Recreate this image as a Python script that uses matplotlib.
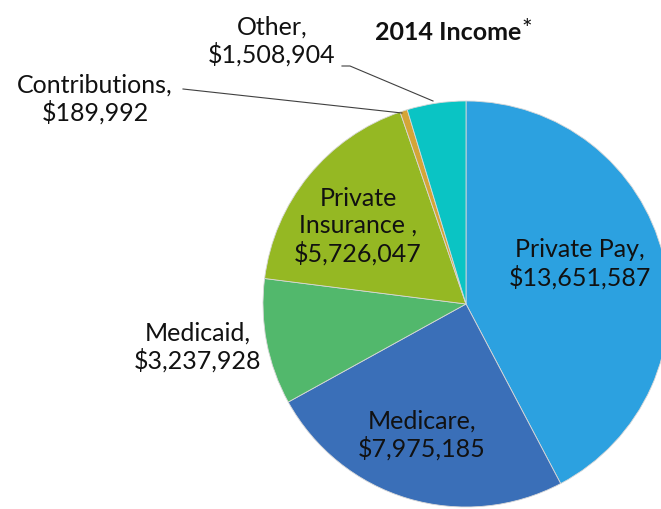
import matplotlib
matplotlib.use("Agg")
import matplotlib.pyplot as plt

categories = ["Private Pay", "Medicare", "Medicaid", "Private\nInsurance ", "Contributions", "Other"]
values = [13651587, 7975185, 3237928, 5726047, 189992, 1508904]
colors = ["#2CA1E0", "#3A6FB8", "#52B86C", "#95B823", "#D4A537", "#0AC4C4"]

plt.rcParams['font.family'] = ['Lato', 'DejaVu Sans']

W, H = 661, 510
fig = plt.figure(figsize=(W/100, H/100), dpi=100)
ax = fig.add_axes([0, 0, 1, 1])

cx, cy, r = 466, H - 305, 203
ax.pie(values, colors=colors, startangle=90, counterclock=False,
       center=(cx, cy), radius=r, frame=True,
       wedgeprops=dict(linewidth=0.6, edgecolor='#d8d8d8'))
ax.set_xlim(0, W)
ax.set_ylim(0, H)
ax.set_aspect('equal')
ax.axis('off')

def lab(i):
    return f"{categories[i]},\n${values[i]:,}"

fs = 18
tc = '#111111'
kw = dict(ha='center', va='center', fontsize=fs, linespacing=1.2, color=tc)
ax.text(580, H - 264, lab(0), **kw)
ax.text(422, H - 435, lab(1), **kw)
ax.text(198, H - 347, lab(2), **kw)
ax.text(358, H - 226, "Private\nInsurance ,\n$5,726,047", **kw)
ax.text(95, H - 99, lab(4), **kw)
ax.text(272, H - 41, lab(5), **kw)

ax.plot([183, 402], [H - 90, H - 114], color='#404040', lw=0.8)
ax.plot([342, 350, 433], [H - 67, H - 67, H - 102], color='#404040', lw=0.8)

ax.text(448, H - 33, "2014 Income", ha='center', va='center', fontsize=18, fontweight='bold', color=tc)
ax.text(521, H - 30, "*", ha='left', va='center', fontsize=18, color=tc)

fig.savefig("out.png", dpi=100)
